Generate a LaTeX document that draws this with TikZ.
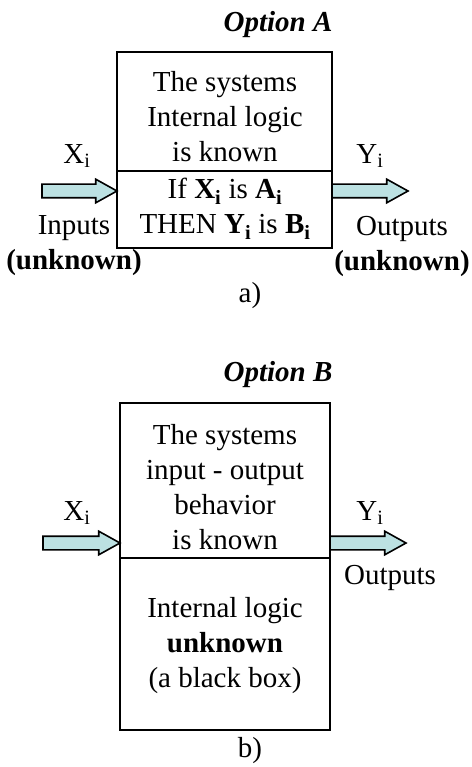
\documentclass[tikz,border=0pt]{standalone}
\usepackage{fontspec}
\setmainfont{Liberation Serif}
\usetikzlibrary{positioning, shapes.arrows, calc}
\definecolor{arrowfill}{HTML}{BCE1E2}

\begin{document}
\begin{tikzpicture}[x=1pt, y=-1pt,
  txt/.style={font=\fontsize{29}{35}\selectfont, align=center, inner sep=0pt},
  sub/.style={font=\fontsize{29}{35}\selectfont, inner sep=0pt},
  part/.style={rectangle, draw, line width=2.4pt, inner sep=0pt, outer sep=0pt},
  fat/.style={single arrow, draw, line width=1.6pt, fill=arrowfill,
    inner xsep=0pt, inner ysep=6pt, single arrow head extend=5pt,
    single arrow tip angle=58, minimum height=#1, anchor=tip, outer sep=0pt}
]
\useasboundingbox (0,0) rectangle (471,767);

% ===== a) internal logic known =====
\node[sub] (titleA) at (278,25) {\textbf{\textit{Option A}}};
\node[part, minimum width=215pt, minimum height=119pt, anchor=north west] (aTop) at (117,52) {};
\node[part, minimum width=215pt, minimum height=77pt, anchor=north] (aBot) at (aTop.south) {};
\node[txt] (aTopTxt) at (225,117) {The systems\\Internal logic\\is known};
\node[txt] (aBotTxt) at (225,209) {If \textbf{X\textsubscript{i}} is \textbf{A\textsubscript{i}}\\THEN \textbf{Y\textsubscript{i}} is \textbf{B\textsubscript{i}}};

\node[fat=75pt] (aIn) at ($(aTop.south west)+(0,20)$) {};
\node[fat=76pt] (aOut) at ($(aTop.south east)+(76,20)$) {};

\node[sub] (aX) at (77,156) {X\textsubscript{i}};
\node[sub] (aY) at (370,156) {Y\textsubscript{i}};
\node[txt] (aInLbl) at (74,246) {Inputs\\\textbf{(unknown)}};
\node[txt] (aOutLbl) at (402,246) {Outputs\\\textbf{(unknown)}};
\node[sub] (capA) at (250,296) {a)};

% ===== b) black box =====
\node[sub] (titleB) at (278,375) {\textbf{\textit{Option B}}};
\node[part, minimum width=210pt, minimum height=155pt, anchor=north west] (bTop) at (120,403) {};
\node[part, minimum width=210pt, minimum height=172pt, anchor=north] (bBot) at (bTop.south) {};
\node[txt] (bTopTxt) at (225,487) {The systems\\input - output\\behavior\\is known};
\node[txt] (bBotTxt) at (225,646) {Internal logic\\\textbf{unknown}\\(a black box)};

\node[fat=77pt] (bIn) at ($(bTop.south west)+(0,-15)$) {};
\node[fat=76pt] (bOut) at ($(bTop.south east)+(76,-15)$) {};

\node[sub] (bX) at (77,513) {X\textsubscript{i}};
\node[sub] (bY) at (370,513) {Y\textsubscript{i}};
\node[sub] (bOutLbl) at (390,578) {Outputs};
\node[sub] (capB) at (250,751) {b)};
\end{tikzpicture}
\end{document}
